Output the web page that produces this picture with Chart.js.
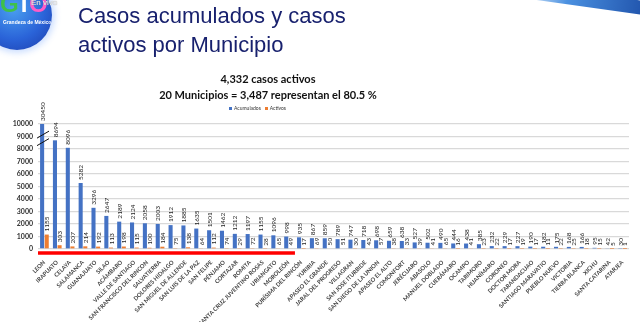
<!DOCTYPE html>
<html lang="es">
<head>
<meta charset="utf-8">
<title>Casos acumulados y casos activos por Municipio</title>
<script src="https://cdn.jsdelivr.net/npm/chart.js@4"></script>
<style>
    body {
        margin: 0;
        width: 640px;
        height: 322px;
        overflow: hidden;
        background: #fff;
        position: relative;
        font-family: Lato, "Liberation Sans", sans-serif;
    }
    .chart-box {
        position: absolute;
        left: 0;
        top: 0;
        width: 640px;
        height: 322px;
    }
    .logo {
        position: absolute;
        left: -18px;
        top: -20px;
        width: 70px;
        height: 70px;
        border-radius: 50%;
        background: radial-gradient(circle at 45% 40%, #4aa0f0 0%, #2a63d8 55%, #1b3aa8 100%);
        box-shadow: 0 0 6px 3px rgba(200, 220, 255, 0.9);
        overflow: hidden;
    }
    .logo .gto {
        position: absolute;
        left: 18px;
        top: 12px;
        font: bold 24px/24px "Liberation Sans", sans-serif;
        letter-spacing: -2px;
    }
    .logo .gto span:nth-child(1) { color: #3fc04a; }
    .logo .gto span:nth-child(2) { color: #ffffff; }
    .logo .gto span:nth-child(3) { color: #ff5cc8; }
    .logo .lema {
        position: absolute;
        left: 21px;
        top: 39px;
        font: bold 5px "Liberation Sans", sans-serif;
        color: #fff;
        white-space: nowrap;
    }
    .envivo {
        position: absolute;
        left: 31px;
        top: -2px;
        font: 8px "Liberation Sans", sans-serif;
        color: #f4f4f4;
        text-shadow: 0 0 1px #777;
    }
    .stripe {
        position: absolute;
        right: -12px;
        top: -7px;
        width: 130px;
        height: 14px;
        transform: rotate(8deg);
        background: linear-gradient(90deg, rgba(150, 200, 245, 0.3), #4a90e0 35%, #1d4fa8);
    }
    .title {
        position: absolute;
        left: 78px;
        top: 1px;
        margin: 0;
        font: 22px/29px "Liberation Sans", Arial, sans-serif;
        color: #18216e;
        font-weight: normal;
    }
    .sub {
        position: absolute;
        left: 0;
        width: 536px;
        text-align: center;
        font-weight: bold;
        color: #111;
        font-size: 11px;
    }
    .legend {
        position: absolute;
        left: 229px;
        top: 105px;
        font-size: 5px;
        color: #333;
        white-space: nowrap;
    }
    .legend i {
        display: inline-block;
        width: 3px;
        height: 3px;
        margin-right: 2px;
    }
</style>
</head>
<body>
<div class="chart-box"><canvas id="myChart"></canvas></div>

<div class="logo">
    <div class="gto"><span>G</span><span>T</span><span>O</span></div>
    <div class="lema">Grandeza de México</div>
</div>
<div class="envivo">En vivo</div>
<div class="stripe"></div>

<h1 class="title">Casos acumulados y casos<br>activos por Municipio</h1>
<div class="sub" style="top:72px">4,332 casos activos</div>
<div class="sub" style="top:88px">20 Municipios = 3,487 representan el 80.5 %</div>
<div class="legend"><i style="background:#4472c4"></i>Acumulados &nbsp;&nbsp;<i style="background:#ed7d31"></i>Activos</div>

<script>
const municipios = ['LEON', 'IRAPUATO', 'CELAYA', 'SALAMANCA', 'GUANAJUATO', 'SILAO', 'ACÁMBARO',
    'VALLE DE SANTIAGO', 'SAN FRANCISCO DEL RINCON', 'SALVATIERRA', 'DOLORES HIDALGO',
    'SAN MIGUEL DE ALLENDE', 'SAN LUIS DE LA PAZ', 'SAN FELIPE', 'PÉNJAMO', 'CORTAZAR', 'ROMITA',
    'SANTA CRUZ JUVENTINO ROSAS', 'URIANGATO', 'MOROLEÓN', 'PURÍSIMA DEL RINCÓN', 'YURIRIA',
    'APASEO EL GRANDE', 'JARAL DEL PROGRESO', 'VILLAGRAN', 'SAN JOSE ITURBIDE',
    'SAN DIEGO DE LA UNION', 'APASEO EL ALTO', 'COMONFORT', 'JERÉCUARO', 'ABASOLO',
    'MANUEL DOBLADO', 'CUERÁMARO', 'OCAMPO', 'TARIMORO', 'HUANÍMARO', 'CORONEO', 'DOCTOR MORA',
    'TARANDACUAO', 'SANTIAGO MARAVATIO', 'PUEBLO NUEVO', 'VICTORIA', 'TIERRA BLANCA', 'XICHU',
    'SANTA CATARINA', 'ATARJEA']

const acumulados = [30450, 8694, 8096, 5282, 3296, 2647, 2189, 2124, 2058, 2003, 1912, 1885, 1635,
    1501, 1462, 1212, 1197, 1155, 1096, 998, 935, 867, 859, 789, 747, 718, 698, 659, 638, 527, 502,
    490, 444, 438, 385, 232, 229, 227, 190, 182, 175, 168, 166, 95, 42, 30]

const activos = [1155, 303, 207, 214, 192, 113, 198, 115, 100, 184, 75, 138, 64, 112, 74, 29, 72,
    28, 65, 49, 17, 69, 50, 51, 30, 43, 57, 38, 33, 39, 41, 65, 16, 41, 23, 22, 17, 19, 17, 11, 22,
    25, 18, 15, 5, 1]

const yTicks = [0, 1000, 2000, 3000, 4000, 5000, 6000, 7000, 8000, 9000, 10000]

// municipios subrayados en rojo (los 20 con más casos)
const topMunicipios = 20

// numbers written vertically above every bar
const valueLabels = {
    id: 'valueLabels',
    afterDatasetsDraw(chart) {
        const {ctx, chartArea} = chart
        ctx.save()
        ctx.font = '6.5px Lato'
        ctx.fillStyle = '#222'
        ctx.textAlign = 'left'
        ctx.textBaseline = 'middle'
        chart.data.datasets.forEach((ds, i) => {
            chart.getDatasetMeta(i).data.forEach((bar, j) => {
                const top = Math.max(bar.y, chartArea.top) - 3
                ctx.save()
                ctx.translate(bar.x + 0.5, top)
                ctx.rotate(-Math.PI / 2)
                ctx.fillText(ds.data[j], 0, 0)
                ctx.restore()
            })
        })
        ctx.restore()
    }
}

// red underline below the top municipalities + the axis break marks
const extras = {
    id: 'extras',
    afterDraw(chart) {
        const {ctx, chartArea, scales: {x, y}} = chart
        const half = (x.getPixelForValue(1) - x.getPixelForValue(0)) / 2
        const lineY = chartArea.bottom + 4
        ctx.save()
        ctx.strokeStyle = '#ff0000'
        ctx.lineWidth = 3.5
        ctx.beginPath()
        ctx.moveTo(x.getPixelForValue(0) - half, lineY)
        ctx.lineTo(x.getPixelForValue(topMunicipios - 1) + half, lineY)
        ctx.stroke()

        ctx.strokeStyle = '#111'
        ctx.lineWidth = 1
        const x0 = chartArea.left - 1
        ;[9150, 8550].forEach(v => {
            const py = y.getPixelForValue(v)
            ctx.beginPath()
            ctx.moveTo(x0, py + 3.5)
            ctx.lineTo(x0 + 12, py - 3.5)
            ctx.stroke()
        })
        ctx.restore()
    }
}

const ctx = document.getElementById('myChart').getContext('2d')
const myChart = new Chart(ctx, {
    type: 'bar',
    data: {
        labels: municipios,
        datasets: [{
            label: 'Acumulados',
            data: acumulados,
            backgroundColor: '#4472c4'
        }, {
            label: 'Activos',
            data: activos,
            backgroundColor: '#ed7d31'
        }]
    },
    options: {
        responsive: true,
        maintainAspectRatio: false,
        animation: false,
        categoryPercentage: 0.72,
        barPercentage: 0.88,
        layout: {
            padding: {top: 124, right: 11, left: 0, bottom: 0}
        },
        scales: {
            x: {
                grid: {display: false},
                border: {display: false},
                ticks: {
                    autoSkip: false,
                    maxRotation: 45,
                    minRotation: 45,
                    padding: 2,
                    color: '#404040',
                    font: {family: 'Lato', size: 5.75, weight: 'bold'}
                },
                afterFit(scale) {
                    scale.height = 73
                }
            },
            y: {
                min: 0,
                max: 10000,
                afterBuildTicks(scale) {
                    scale.ticks = yTicks.map(v => ({value: v}))
                },
                grid: {color: '#d9d9d9', lineWidth: 1.3, drawTicks: false},
                border: {display: false},
                ticks: {
                    padding: 5,
                    color: '#333',
                    font: {family: 'Lato', size: 7, weight: 'bold'},
                    callback: value => String(value)
                },
                afterFit(scale) {
                    scale.width = 38
                }
            }
        },
        plugins: {
            legend: {display: false},
            tooltip: {enabled: false}
        }
    },
    plugins: [valueLabels, extras]
})
</script>
</body>
</html>
